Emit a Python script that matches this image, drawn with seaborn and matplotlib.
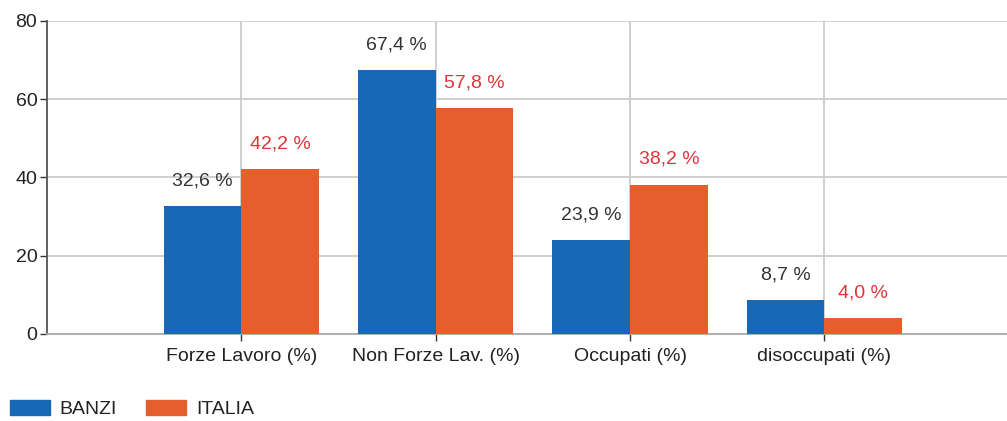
import matplotlib
matplotlib.use("Agg")
import pandas as pd
import matplotlib.pyplot as plt
import seaborn as sns

# Data
categories = ["Forze Lavoro (%)", "Non Forze Lav. (%)", "Occupati (%)", "disoccupati (%)"]
banzi = [32.6, 67.4, 23.9, 8.7]
italia = [42.2, 57.8, 38.2, 4.0]
series = ["BANZI", "ITALIA"]
colors = ["#1769b5", "#e45f2b"]
label_colors = ["#333333", "#e0343a"]

df = pd.DataFrame({
    "Categoria": categories * 2,
    "Valore": banzi + italia,
    "Serie": [series[0]] * len(categories) + [series[1]] * len(categories),
})

sns.set_style("white")
plt.rcParams["font.family"] = ["Liberation Sans", "DejaVu Sans"]
fs = 14

fig = plt.figure(figsize=(10.07, 4.21), dpi=100)
ax = fig.add_axes([0.0467, 0.2067, 0.9533, 0.7435])

sns.barplot(data=df, x="Categoria", y="Valore", hue="Serie", order=categories,
            hue_order=series, palette=colors, width=0.8, saturation=1,
            linewidth=0, ax=ax, legend=False, zorder=3)

for cont, vals, col in zip(ax.containers, [banzi, italia], label_colors):
    labels = [f"{v:.1f} %".replace(".", ",") for v in vals]
    ax.bar_label(cont, labels=labels, padding=12, color=col, fontsize=fs)

ax.set_ylim(0, 80)
ax.set_yticks([0, 20, 40, 60, 80])
ax.set_xlim(-1, 3.94)
ax.set_xlabel("")
ax.set_ylabel("")

ax.grid(True, color="#cccccc", linewidth=1.3, zorder=0)
ax.set_axisbelow(True)
for s in ["top", "right"]:
    ax.spines[s].set_visible(False)
ax.spines["left"].set_color("#555555")
ax.spines["bottom"].set_color("#aaaaaa")
ax.spines["left"].set_linewidth(1.3)
ax.spines["bottom"].set_linewidth(1.3)

ax.tick_params(axis="both", which="both", direction="out", length=5, width=1,
               color="#333333", labelcolor="#222222", labelsize=fs, left=True, bottom=True)
ax.tick_params(axis="x", pad=5)
ax.tick_params(axis="y", pad=2)

handles = [plt.Rectangle((0, 0), 1, 1, color=c) for c in colors]
fig.legend(handles, series, loc="center left", bbox_to_anchor=(0.0099, 0.028), ncol=2,
           frameon=False, fontsize=fs, handlelength=2.06, handleheight=0.85,
           handletextpad=0.5, columnspacing=1.5, borderpad=0, borderaxespad=0,
           labelcolor="#222222")

fig.savefig("out.png", dpi=100)
plt.close(fig)
